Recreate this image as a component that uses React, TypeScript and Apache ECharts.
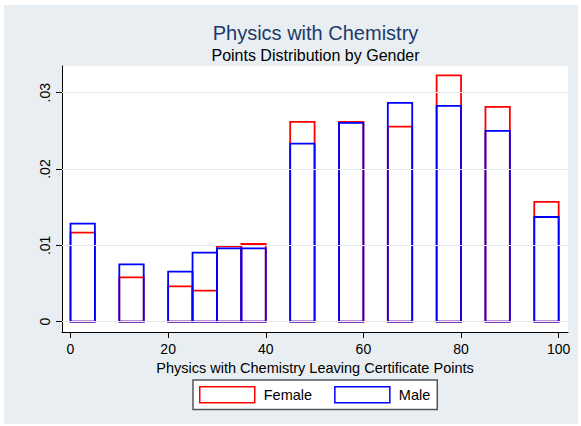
import React, { useEffect, useRef } from "react";
import * as echarts from "echarts";

// Histogram bins (start points, width 5)
const binStarts = [0, 10, 20, 25, 30, 35, 45, 55, 65, 75, 85, 95];
const binWidth = 5;
const femaleDensity = [0.01166, 0.00581, 0.00463, 0.00406, 0.00987, 0.01018, 0.02617, 0.02617, 0.02556, 0.03228, 0.02814, 0.01569];
const maleDensity = [0.01284, 0.00751, 0.00655, 0.00904, 0.00961, 0.00961, 0.02333, 0.02604, 0.02866, 0.02827, 0.02499, 0.01372];

const xTickValues = [0, 20, 40, 60, 80, 100];
const yTickValues = [0, 0.01, 0.02, 0.03];
const yTickLabels = ["0", ".01", ".02", ".03"];

const FONT = "'Liberation Sans', Arial, Helvetica, sans-serif";
const RED = "#ff0000";
const BLUE = "#0000ff";

function makeRenderItem(fill: string, stroke: string) {
  return (params: any, api: any) => {
    const x0 = api.value(0);
    const x1 = api.value(1);
    const y = api.value(2);
    const p0 = api.coord([x0, y]);
    const p1 = api.coord([x1, 0]);
    return {
      type: "rect",
      shape: { x: p0[0], y: p0[1], width: p1[0] - p0[0], height: p1[1] - p0[1] },
      style: { fill, stroke, lineWidth: 1.8 },
    };
  };
}

export default function App() {
  const ref = useRef<HTMLDivElement>(null);

  useEffect(() => {
    document.body.style.margin = "0";
    if (!ref.current) return;
    const chart = echarts.init(ref.current, null, { renderer: "svg" });

    const femaleData = binStarts.map((s, i) => [s, s + binWidth, femaleDensity[i]]);
    const maleData = binStarts.map((s, i) => [s, s + binWidth, maleDensity[i]]);

    chart.setOption({
      animation: false,
      title: [
        {
          text: "Physics with Chemistry",
          left: 315.5,
          top: 23,
          textAlign: "center",
          padding: 0,
          textStyle: { fontSize: 20, fontWeight: "normal", color: "#1c3a6b", fontFamily: FONT },
        },
        {
          text: "Points Distribution by Gender",
          left: 315.5,
          top: 47,
          textAlign: "center",
          padding: 0,
          textStyle: { fontSize: 16, fontWeight: "normal", color: "#000", fontFamily: FONT },
        },
      ],
      grid: {
        left: 62,
        right: 13,
        top: 66,
        bottom: 94,
        show: true,
        backgroundColor: "#ffffff",
        borderWidth: 0,
      },
      legend: {
        left: 193,
        top: 380,
        orient: "horizontal",
        itemWidth: 55,
        itemHeight: 16,
        itemGap: 22,
        padding: [6, 7, 6, 6],
        borderColor: "#555",
        borderWidth: 1.5,
        borderRadius: 0,
        backgroundColor: "#ffffff",
        selectedMode: false,
        textStyle: { fontSize: 14.5, color: "#000", fontFamily: FONT, padding: [0, 0, 0, 4] },
        data: [
          { name: "Female", icon: "rect", itemStyle: { color: "#ffffff", borderColor: RED, borderWidth: 1.5 } },
          { name: "Male", icon: "rect", itemStyle: { color: "#ffffff", borderColor: BLUE, borderWidth: 1.5 } },
        ],
      },
      xAxis: {
        type: "value",
        min: -1.74,
        max: 101.91,
        axisLine: { show: true, onZero: false, lineStyle: { color: "#000", width: 1 } },
        axisTick: { show: true, length: 6, customValues: xTickValues, lineStyle: { color: "#000", width: 1 } },
        axisLabel: { customValues: xTickValues, fontSize: 14, color: "#000", margin: 10, fontFamily: FONT },
        splitLine: { show: false },
        name: "Physics with Chemistry Leaving Certificate Points",
        nameLocation: "middle",
        nameGap: 23,
        nameTextStyle: { fontSize: 14.5, color: "#000", fontFamily: FONT },
      },
      yAxis: {
        type: "value",
        min: -0.00135,
        max: 0.0335,
        axisLine: { show: true, onZero: false, lineStyle: { color: "#000", width: 1 } },
        axisTick: { show: true, length: 6, customValues: yTickValues, lineStyle: { color: "#000", width: 1 } },
        axisLabel: {
          customValues: yTickValues,
          rotate: 90,
          margin: 10,
          fontSize: 14,
          color: "#000",
          fontFamily: FONT,
          formatter: (v: number) => {
            const idx = yTickValues.findIndex((t) => Math.abs(t - v) < 1e-9);
            return idx >= 0 ? yTickLabels[idx] : "";
          },
        },
        splitLine: { show: false },
      },
      series: [
        {
          name: "grid",
          type: "line",
          data: [],
          z: 1,
          silent: true,
          markLine: {
            silent: true,
            symbol: "none",
            label: { show: false },
            lineStyle: { color: "#e3eaee", width: 1, type: "solid" },
            data: yTickValues.map((v) => ({ yAxis: v })),
          },
        },
        {
          name: "Female",
          type: "custom",
          z: 3,
          renderItem: makeRenderItem("#ffffff", RED),
          itemStyle: { color: "#ffffff", borderColor: RED, borderWidth: 1.5 },
          encode: { x: [0, 1], y: 2 },
          data: femaleData,
        },
        {
          name: "Male",
          type: "custom",
          z: 4,
          renderItem: makeRenderItem("none", BLUE),
          itemStyle: { color: "#ffffff", borderColor: BLUE, borderWidth: 1.5 },
          encode: { x: [0, 1], y: 2 },
          data: maleData,
        },
      ],
    });

    return () => chart.dispose();
  }, []);

  return (
    <div style={{ position: "relative", width: 581, height: 426, background: "#ffffff" }}>
      <div
        style={{
          position: "absolute",
          left: 4,
          top: 5,
          width: 574,
          height: 419,
          background: "#e8eef1",
        }}
      />
      <div ref={ref} style={{ position: "absolute", left: 0, top: 0, width: 581, height: 426 }} />
    </div>
  );
}
